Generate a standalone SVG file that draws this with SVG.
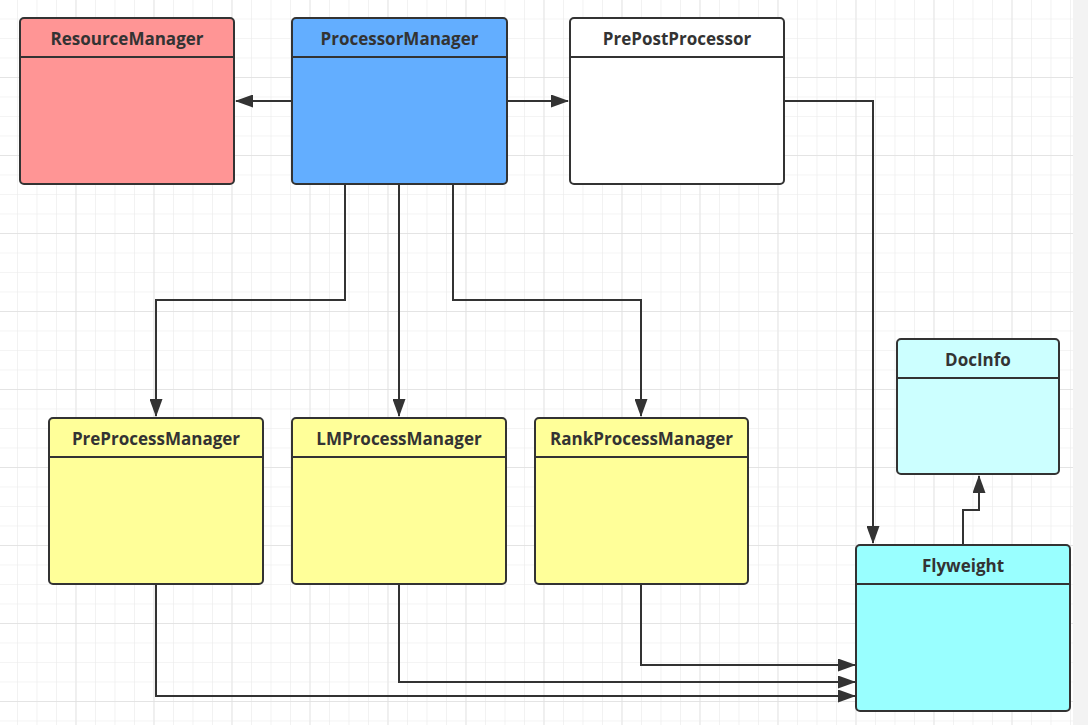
<svg xmlns="http://www.w3.org/2000/svg" width="1088" height="725" viewBox="0 0 1088 725">
<defs>
<pattern id="minor" x="-2.5" y="-1" width="19.5" height="19.5" patternUnits="userSpaceOnUse">
<path d="M0 0 H19.5 M0 0 V19.5" fill="none" stroke="#eaeaea" stroke-width="1.2"/>
</pattern>
<pattern id="major" x="-2.5" y="-1" width="78" height="78" patternUnits="userSpaceOnUse">
<path d="M0 0 H78 M0 0 V78" fill="none" stroke="#e0e0e0" stroke-width="1.4"/>
</pattern>
<marker id="arr" viewBox="0 0 18 13" refX="17" refY="6.5" markerWidth="18" markerHeight="13" markerUnits="userSpaceOnUse" orient="auto">
<path d="M0 0 L18 6.5 L0 13 Z" fill="#333"/>
</marker>
<style>
.box{stroke:#333;stroke-width:2}
.div{stroke:#333;stroke-width:2}
.t{font-family:"Open Sans","Noto Sans","Liberation Sans",sans-serif;font-weight:bold;font-size:17px;fill:#333;text-anchor:middle}
.c{fill:none;stroke:#333;stroke-width:2;marker-end:url(#arr)}
</style>
</defs>
<rect width="1088" height="725" fill="#ffffff"/>
<rect width="1073" height="725" fill="url(#minor)"/>
<rect width="1073" height="725" fill="url(#major)"/>
<rect x="1073" y="0" width="15" height="725" fill="#f3f3f3"/>

<g id="connectors">
<path class="c" d="M292 101 H236"/>
<path class="c" d="M507 101 H568"/>
<path class="c" d="M784 101 H873 V543"/>
<path class="c" d="M345 184 V300 H156 V416"/>
<path class="c" d="M399 184 V416"/>
<path class="c" d="M453 184 V300 H641 V416"/>
<path class="c" d="M963 545 V510 H979 V476"/>
<path class="c" d="M641 584 V665 H855"/>
<path class="c" d="M399 584 V682 H855"/>
<path class="c" d="M156 584 V696 H855"/>
</g>

<g id="ResourceManager">
<rect class="box" x="20" y="18" width="214" height="166" rx="4" fill="#ff9595"/>
<line class="div" x1="20" y1="57" x2="234" y2="57"/>
<text class="t" x="127" y="45">ResourceManager</text>
</g>
<g id="ProcessorManager">
<rect class="box" x="292" y="18" width="215" height="166" rx="4" fill="#63aeff"/>
<line class="div" x1="292" y1="57" x2="507" y2="57"/>
<text class="t" x="399.5" y="45">ProcessorManager</text>
</g>
<g id="PrePostProcessor">
<rect class="box" x="570" y="18" width="214" height="166" rx="4" fill="#ffffff"/>
<line class="div" x1="570" y1="57" x2="784" y2="57"/>
<text class="t" x="677" y="45">PrePostProcessor</text>
</g>
<g id="PreProcessManager">
<rect class="box" x="49" y="418" width="214" height="166" rx="4" fill="#ffff99"/>
<line class="div" x1="49" y1="457" x2="263" y2="457"/>
<text class="t" x="156" y="445">PreProcessManager</text>
</g>
<g id="LMProcessManager">
<rect class="box" x="292" y="418" width="214" height="166" rx="4" fill="#ffff99"/>
<line class="div" x1="292" y1="457" x2="506" y2="457"/>
<text class="t" x="399" y="445">LMProcessManager</text>
</g>
<g id="RankProcessManager">
<rect class="box" x="535" y="418" width="213" height="166" rx="4" fill="#ffff99"/>
<line class="div" x1="535" y1="457" x2="748" y2="457"/>
<text class="t" x="641.5" y="445">RankProcessManager</text>
</g>
<g id="DocInfo">
<rect class="box" x="897" y="339" width="162" height="135" rx="4" fill="#ccffff"/>
<line class="div" x1="897" y1="378" x2="1059" y2="378"/>
<text class="t" x="978" y="366">DocInfo</text>
</g>
<g id="Flyweight">
<rect class="box" x="856" y="545" width="214" height="166" rx="4" fill="#99ffff"/>
<line class="div" x1="856" y1="584" x2="1070" y2="584"/>
<text class="t" x="963" y="572">Flyweight</text>
</g>
</svg>
